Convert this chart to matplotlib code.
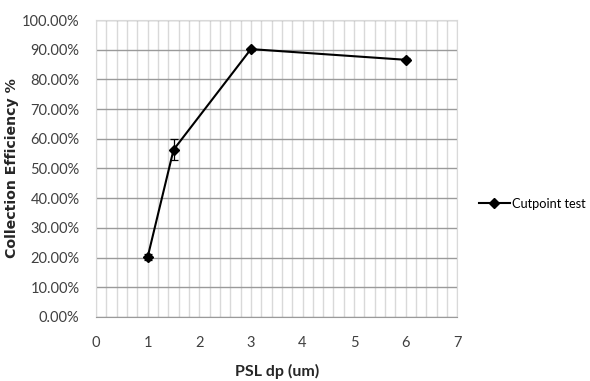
import matplotlib
matplotlib.use("Agg")
import matplotlib.pyplot as plt
from matplotlib.ticker import MultipleLocator, FuncFormatter
from matplotlib.lines import Line2D

x_vals = [1, 1.5, 3, 6]
y_vals = [20.3, 56.3, 90.2, 86.6]
y_err = [1.0, 3.5, 0.5, 0.5]
series_name = "Cutpoint test"

plt.rcParams['font.family'] = ["Lato", "DejaVu Sans"]

fig = plt.figure(figsize=(5.9, 3.81), dpi=100)
ax = fig.add_axes([0.163, 0.168, 0.612, 0.7795])

ax.errorbar(x_vals, y_vals, yerr=y_err, color="black", marker="D", markersize=5,
            linewidth=1.5, elinewidth=0.9, capsize=3, capthick=0.9, zorder=3)

ax.set_xlim(0, 7)
ax.set_ylim(0, 100)
ax.xaxis.set_major_locator(MultipleLocator(1))
ax.xaxis.set_minor_locator(MultipleLocator(0.2))
ax.yaxis.set_major_locator(MultipleLocator(10))
ax.yaxis.set_major_formatter(FuncFormatter(lambda v, p: f"{v:.2f}%"))

ax.grid(True, axis="x", which="both", color="#d9d9d9", linewidth=1.0)
ax.grid(True, axis="y", which="major", color="#9a9a9a", linewidth=1.0)
ax.set_axisbelow(True)
for s in ["top", "right", "left"]:
    ax.spines[s].set_color("#d9d9d9")
ax.spines["bottom"].set_color("#9a9a9a")
ax.tick_params(axis="y", which="both", length=0, labelsize=10.5, colors="#404040", pad=12)
ax.tick_params(axis="x", which="both", length=0, labelsize=10.5, colors="#404040", pad=14)

ax.set_xlabel("PSL dp (um)", fontsize=11.5, fontweight="bold", color="#262626", labelpad=10)
ax.set_ylabel("Collection Efficiency %", fontsize=10.2, fontweight="bold", color="#262626",
              family=["DejaVu Sans"])
ax.yaxis.set_label_coords(-0.213, 0.5)

handle = Line2D([], [], color="black", marker="D", markersize=5, linewidth=1.5)
fig.legend([handle], [series_name], loc="center left", bbox_to_anchor=(0.812, 0.465),
           frameon=False, fontsize=9.2, handlelength=2.4, handletextpad=0.15,
           borderaxespad=0, borderpad=0)

fig.savefig("out.png", dpi=100)
